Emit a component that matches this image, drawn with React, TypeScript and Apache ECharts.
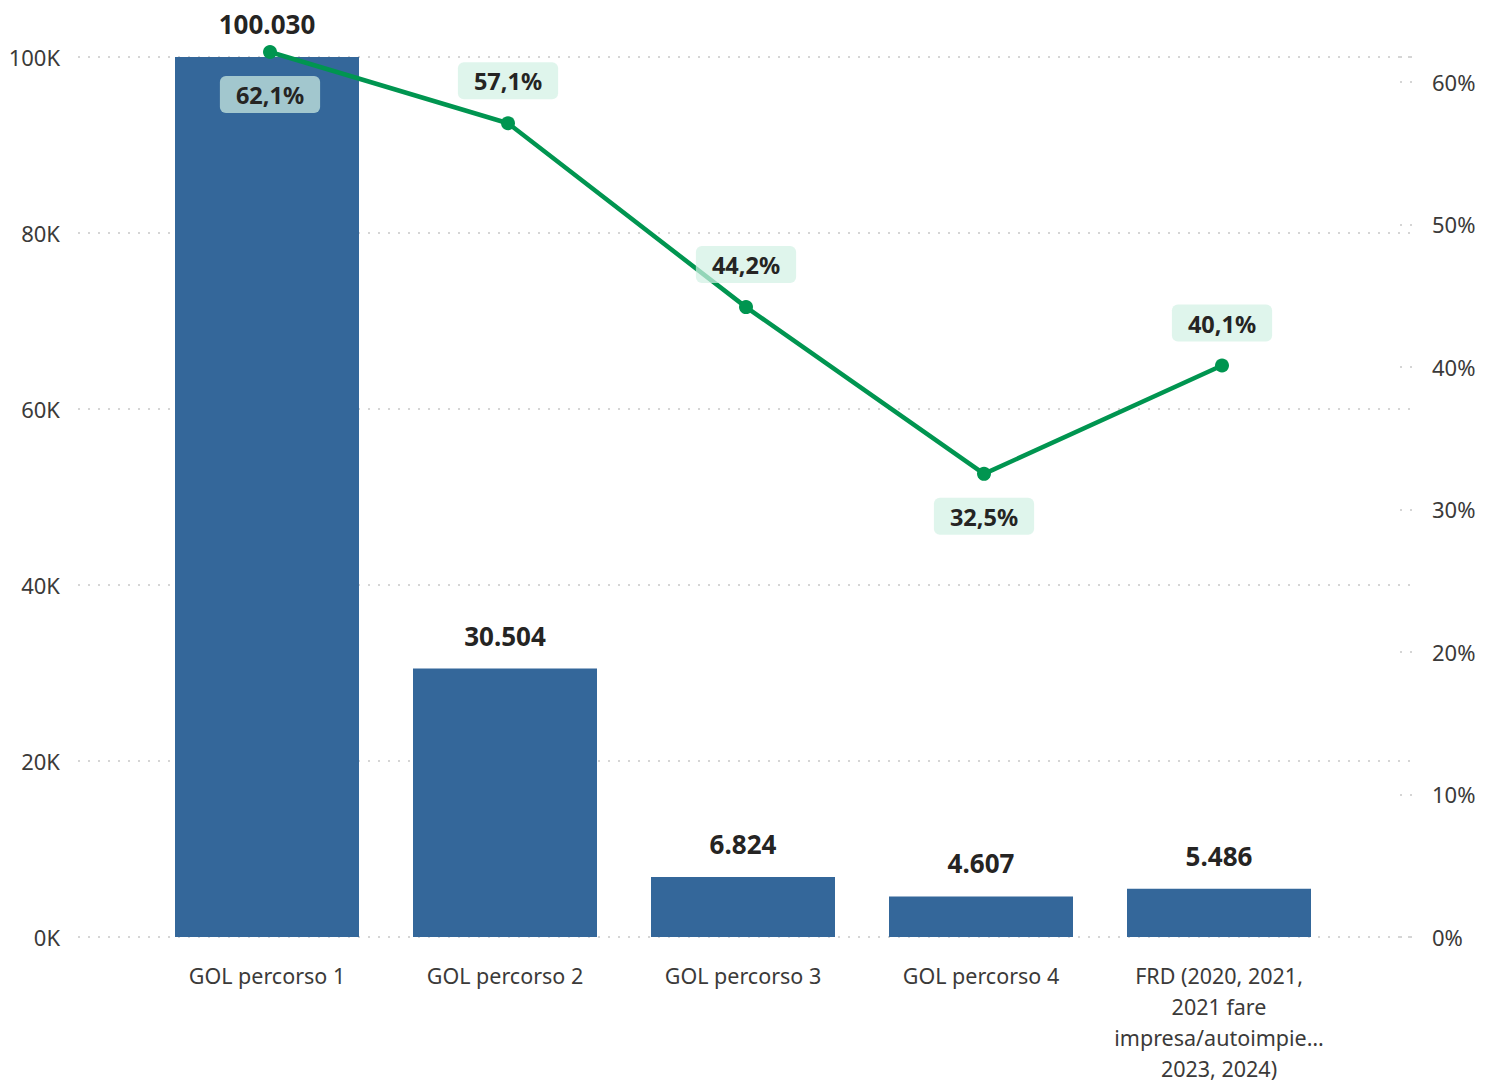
import React, { useEffect, useRef } from "react";
import * as echarts from "echarts";

const categories = [
  "GOL percorso 1",
  "GOL percorso 2",
  "GOL percorso 3",
  "GOL percorso 4",
  "FRD (2020, 2021,\n2021 fare\nimpresa/autoimpie…\n2023, 2024)",
];
const barValues = [100030, 30504, 6824, 4607, 5486];
const pctValues = [62.1, 57.1, 44.2, 32.5, 40.1];
const leftTicks = [0, 20000, 40000, 60000, 80000, 100000];
const rightTicks = [0, 10, 20, 30, 40, 50, 60];

const FONT = "'Segoe UI', 'Noto Sans', 'Open Sans', sans-serif";
const labelBelow = [true, false, false, true, false];

const fmtThousands = (v: number) =>
  String(v).replace(/\B(?=(\d{3})+(?!\d))/g, ".");
const fmtPct = (v: number) => v.toFixed(1).replace(".", ",") + "%";

const LEFT_MAX = leftTicks[leftTicks.length - 1];
const RIGHT_MAX = 61.75;

export default function App() {
  const ref = useRef<HTMLDivElement>(null);
  useEffect(() => {
    if (!ref.current) return;
    const chart = echarts.init(ref.current, undefined, { renderer: "svg" });
    const dotted = { color: "#c8c8c8", width: 1.5, type: [2, 8] as any };
    const gridBase = {
      top: 57,
      bottom: 146,
      containLabel: false,
      outerBoundsMode: "none",
    };
    const option: any = {
      animation: false,
      textStyle: { fontFamily: FONT },
      grid: [
        { ...gridBase, left: 148, right: 157 },
        { ...gridBase, left: 78, right: 83 },
        { ...gridBase, left: 151, right: 154 },
      ],
      xAxis: [
        {
          type: "category",
          gridIndex: 0,
          data: categories,
          axisLine: { show: false },
          axisTick: { show: false },
          axisLabel: {
            interval: 0,
            margin: 23,
            fontSize: 21.5,
            lineHeight: 31,
            color: "#3b3a39",
            fontFamily: FONT,
          },
        },
        { type: "value", gridIndex: 1, show: false, min: 0, max: 1 },
        {
          type: "category",
          gridIndex: 2,
          data: categories,
          show: false,
        },
      ],
      yAxis: [
        {
          type: "value",
          gridIndex: 0,
          min: 0,
          max: LEFT_MAX,
          interval: 20000,
          show: false,
        },
        {
          type: "value",
          gridIndex: 2,
          min: 0,
          max: RIGHT_MAX,
          interval: 10,
          position: "right",
          show: false,
        },
        {
          type: "value",
          gridIndex: 1,
          min: 0,
          max: LEFT_MAX,
          interval: 20000,
          position: "left",
          axisLine: { show: false },
          axisTick: { show: false },
          splitLine: { show: true, lineStyle: dotted },
          axisLabel: {
            margin: 18,
            fontSize: 22,
            color: "#3b3a39",
            fontFamily: FONT,
            formatter: (v: number) =>
              leftTicks.includes(v) ? v / 1000 + "K" : "",
          },
        },
        {
          type: "value",
          gridIndex: 1,
          min: 0,
          max: RIGHT_MAX,
          interval: 10,
          position: "right",
          axisLine: { show: false },
          axisTick: {
            show: true,
            inside: true,
            length: 12,
            lineStyle: dotted,
          },
          splitLine: { show: false },
          axisLabel: {
            margin: 20,
            fontSize: 22,
            color: "#3b3a39",
            fontFamily: FONT,
            formatter: (v: number) =>
              rightTicks.includes(v) ? v + "%" : "",
          },
        },
      ],
      series: [
        {
          type: "bar",
          xAxisIndex: 0,
          yAxisIndex: 0,
          data: barValues,
          barWidth: 184,
          itemStyle: { color: "#34679a" },
          label: {
            show: true,
            position: "top",
            distance: 20,
            fontSize: 26,
            fontWeight: "bold",
            color: "#252423",
            fontFamily: FONT,
            formatter: (p: any) => fmtThousands(p.value),
          },
          z: 2,
        },
        {
          type: "line",
          xAxisIndex: 2,
          yAxisIndex: 1,
          clip: false,
          data: pctValues.map((v, i) => ({
            value: v,
            label: {
              position: labelBelow[i] ? "bottom" : "top",
              distance: 17,
            },
          })),
          symbol: "circle",
          symbolSize: 14,
          lineStyle: { color: "#009550", width: 4.5 },
          itemStyle: { color: "#009550" },
          label: {
            show: true,
            fontSize: 23.5,
            fontWeight: "bold",
            color: "#252423",
            fontFamily: FONT,
            backgroundColor: "rgba(209,241,228,0.7)",
            borderRadius: 6,
            padding: [7, 16, 6, 16],
            formatter: (p: any) => fmtPct(p.value),
          },
          z: 5,
        },
      ],
    };
    chart.setOption(option);
    return () => chart.dispose();
  }, []);
  return (
    <div
      ref={ref}
      style={{
        position: "absolute",
        left: 0,
        top: 0,
        width: 1495,
        height: 1083,
        background: "#fff",
      }}
    />
  );
}
